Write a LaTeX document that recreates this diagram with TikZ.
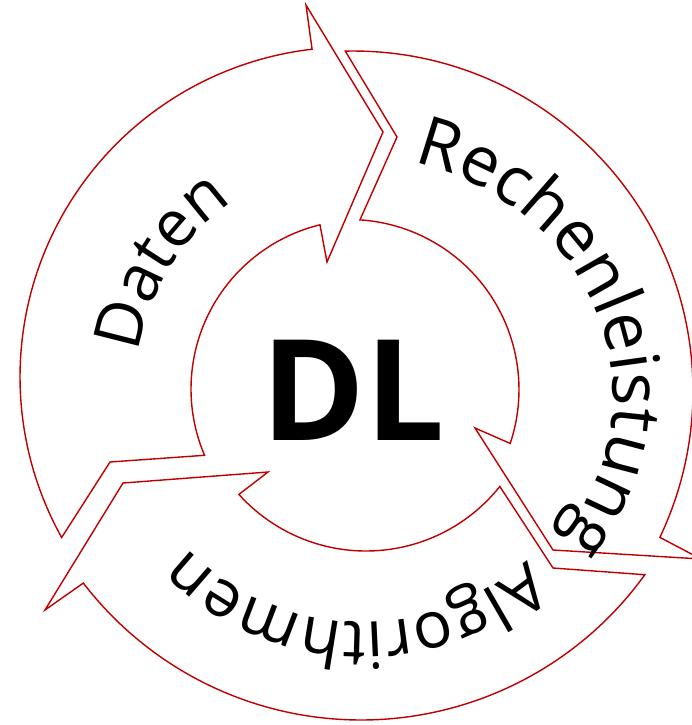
\documentclass[tikz,border=0pt]{standalone}
\usepackage{fontspec}
\setmainfont{Open Sans}
\usetikzlibrary{calc, decorations.text}
\definecolor{cyclered}{HTML}{C00000}
\newcommand{\ringfont}{\fontsize{37}{37}\selectfont}
\newcommand{\bigringfont}{\fontsize{39}{39}\selectfont}

\begin{document}
\begin{tikzpicture}[
  x=0.02cm, y=-0.02cm,
  cyclearrow/.style={draw=cyclered, fill=white, line width=0.8pt, line join=miter},
  ringlabel/.style={decorate, decoration={text along path, text align=center, text={|\ringfont|#1}}}
]
  \useasboundingbox (0,0) rectangle (692,725);

  % Daten
  \draw[cyclearrow] ($(350,377)+(150.9:330)$) arc[start angle=150.9, end angle=263.4, radius=330]
    -- (306,5) -- (383,132) -- (327,262)
    -- ($(360,389)+(256.3:169)$) arc[start angle=256.3, end angle=156.9, radius=169]
    -- (110,462) -- cycle;

  % Rechenleistung
  \draw[cyclearrow] ($(353,391)+(268.7:340)$) arc[start angle=268.7, end angle=385.5, radius=340]
    -- (701,559) -- (553,550) -- (475,428)
    -- ($(349,389.5)+(18.5:170)$) arc[start angle=18.5, end angle=-86.3, radius=170]
    -- (397,137) -- cycle;

  % Algorithmen
  \draw[cyclearrow] ($(361,370)+(35.8:350)$) arc[start angle=35.8, end angle=142.5, radius=350]
    -- (45,610) -- (123,483) -- (268,472)
    -- ($(366,380)+(138:171)$) arc[start angle=138, end angle=38.5, radius=171]
    -- (553,568) -- cycle;

  \path[ringlabel=Daten] ($(355,383)+(172:218)$) arc[start angle=172, end angle=252, radius=218];
  \path[ringlabel=Rechenleistung, decoration={text={|\bigringfont|Rechenleistung}}]
    ($(348,395)+(-94:265 and 240)$) arc[start angle=-94, end angle=56, x radius=265, y radius=240];
  \path[ringlabel=Algorithmen] ($(363,375)+(27:247)$) arc[start angle=27, end angle=157, radius=247];

  \node[inner sep=0pt, font=\fontsize{80}{80}\selectfont\bfseries] (dl) at (353,390) {DL};
\end{tikzpicture}
\end{document}
